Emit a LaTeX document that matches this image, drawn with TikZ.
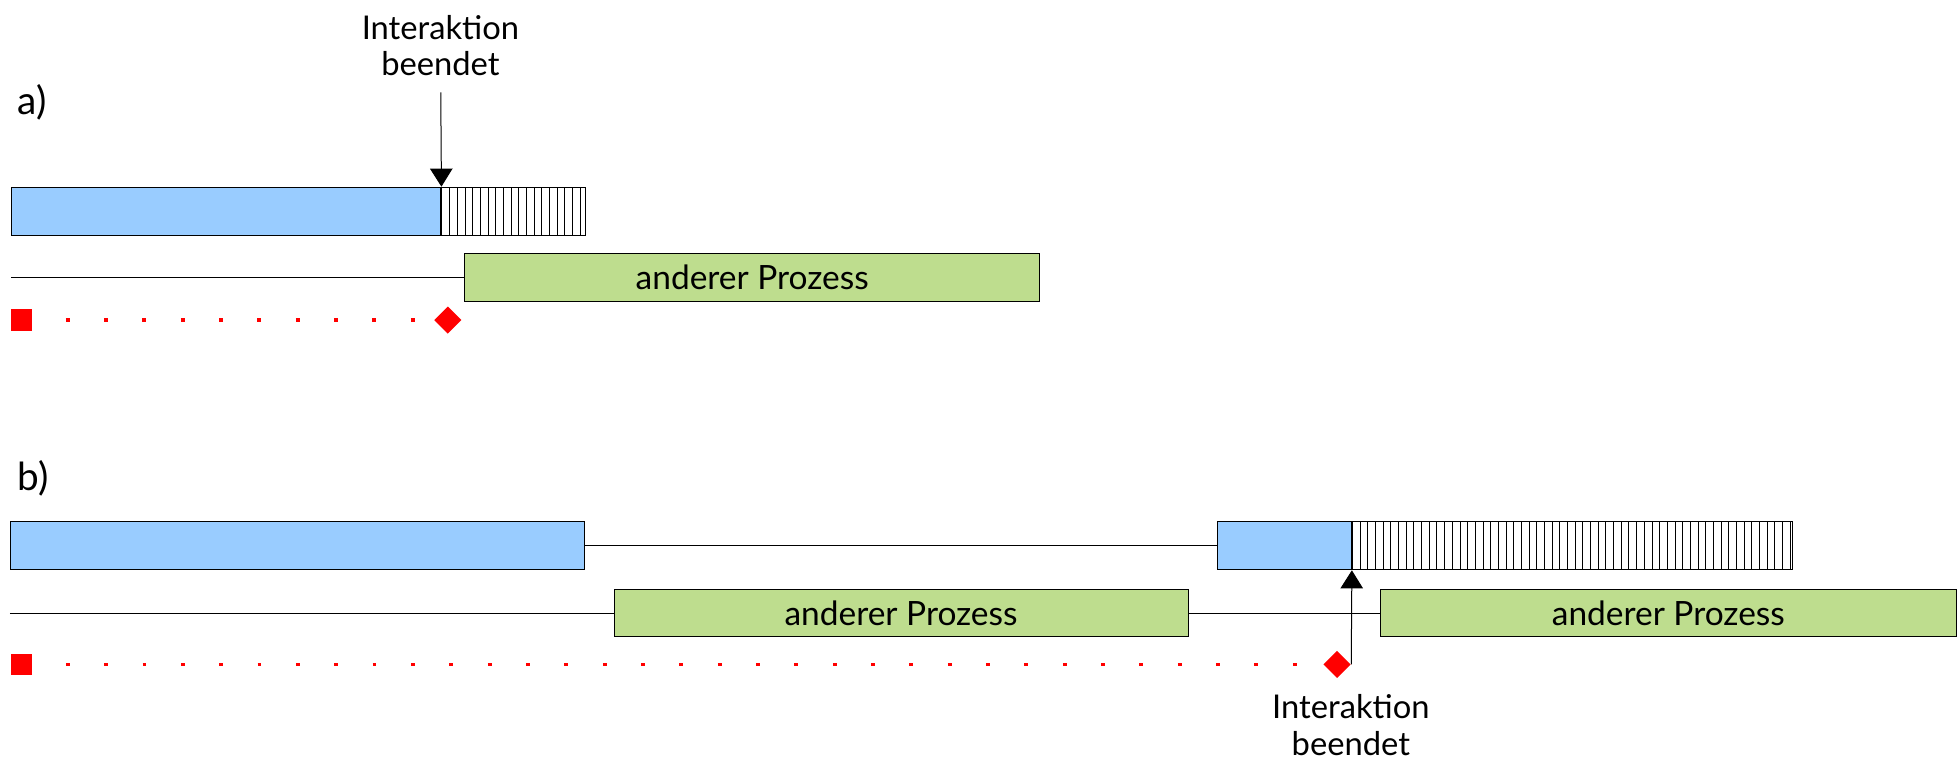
\documentclass[tikz,border=0pt]{standalone}
\usepackage{fontspec}
\setmainfont{Lato}
\usetikzlibrary{arrows.meta,shapes.geometric}
\definecolor{procblue}{RGB}{153,204,255}
\definecolor{othergreen}{RGB}{190,221,142}
\tikzset{
    procbar/.style={draw, fill=procblue, minimum height=38.3pt, inner sep=0pt, anchor=north west},
    hatchbar/.style={procbar, fill=white,
        path picture={\foreach \i in {1,...,60}
            \draw[semithick] ([xshift=\i*6.15pt]path picture bounding box.south west) -- ([xshift=\i*6.15pt]path picture bounding box.north west);}},
    otherbox/.style={procbar, fill=othergreen, font=\fontsize{26.8}{30}\selectfont},
    startmark/.style={fill=red, minimum size=17pt, inner sep=0pt},
    endmark/.style={diamond, fill=red, minimum width=22pt, minimum height=22pt, inner sep=0pt},
    reddots/.style={red, line width=3pt, dash pattern=on 3pt off 27.7pt, dash phase=4pt},
    labeltext/.style={font=\fontsize{26.2}{29.4}\selectfont, align=center, inner sep=0pt, anchor=north},
    parttext/.style={font=\fontsize{31}{34}\selectfont, inner sep=0pt, anchor=base west}
}
\begin{document}
\begin{tikzpicture}[x=1pt, y=-1pt, >={Triangle[width=18pt,length=14.5pt]}, thick]
        \useasboundingbox (0,0) rectangle (1568,609.4);
        % a)
        \node[parttext] (partA) at (14,91.3) {a)};
        \node[procbar, minimum width=343.7pt] (blueA) at (9,149.5) {};
        \node[hatchbar, minimum width=115.3pt] (hatchA) at (blueA.north east) {};
        \node[otherbox, minimum width=460.6pt] (greenA) at (371.7,202.9) {anderer Prozess};
        \coordinate (startA) at (greenA.west -| 9,0);
        \node[startmark] (sqA) at (17.1,256.3) {};
        \node[endmark] (diaA) at (358.6,256.3) {};
        \node[labeltext] (endA) at (352.7,11.6) {Interaktion\\beendet};
        \draw (startA) -- (greenA.west);
        \draw[->, shorten <=12.6pt] (endA) -- (blueA.north east);
        \draw[reddots] (sqA) -- (diaA);
        % b)
        \node[parttext] (partB) at (14,392.4) {b)};
        \node[procbar, minimum width=460pt] (blueB) at (8,417.6) {};
        \node[procbar, minimum width=107.5pt] (blueC) at (974.3,417.6) {};
        \node[hatchbar, minimum width=352.5pt] (hatchB) at (blueC.north east) {};
        \node[otherbox, minimum width=459.6pt] (greenB) at (491.4,471.4) {anderer Prozess};
        \node[otherbox, minimum width=460.7pt] (greenC) at (1105.3,471.4) {anderer Prozess};
        \coordinate (startB) at (greenB.west -| 8,0);
        \node[startmark] (sqB) at (17.3,532.1) {};
        \node[endmark] (diaB) at (1070.7,532.1) {};
        \node[labeltext] (endB) at (1081.8,555.6) {Interaktion\\beendet};
        \draw (blueB) -- (blueC);
        \draw (startB) -- (greenB.west);
        \draw (greenB) -- (greenC);
        \draw[reddots] (sqB) -- (diaB);
        \draw[->] (diaB.east) -- (blueC.south east);
\end{tikzpicture}
\end{document}
